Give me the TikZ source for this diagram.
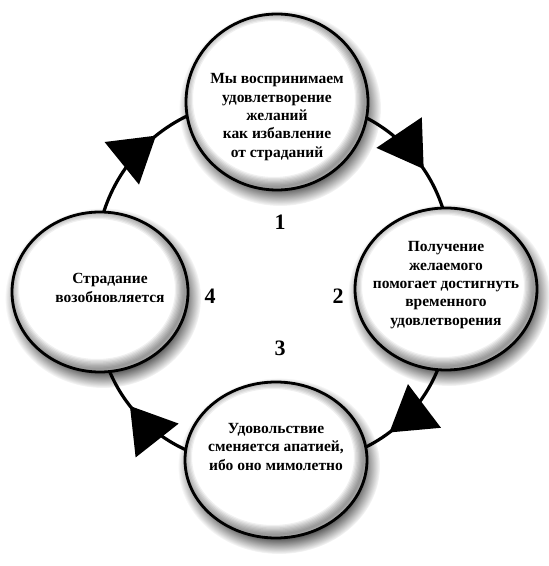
\documentclass[tikz,border=0pt]{standalone}
\usepackage{fontspec}
\setmainfont{Liberation Serif}
\usetikzlibrary{arrows.meta,decorations.markings,shapes.geometric,fadings,calc}
\pgfdeclarelayer{background}
\pgfsetlayers{background,main}
\definecolor{shadowgray}{RGB}{30,30,30}
\newcommand{\discshadow}[3]{\fill[shadowgray, opacity=0.8, path fading=circle with fuzzy edge 20 percent] ($(#1)+(3,-6)$) ellipse (#2 and #3);}
\newcommand{\innershade}[3]{
  \begin{scope}
    \clip (#1) ellipse (#2 and #3);
    \foreach \i in {1,...,8}{
      \draw[line width={\i*2.5pt}, black, opacity=0.06] ($(#1)+(-3,3)$) ellipse (#2 and #3);
    }
  \end{scope}
}
\tikzset{
  stage/.style 2 args={ellipse, draw, line width=2.8pt, fill=white, minimum width=#1, minimum height=#2, inner sep=0pt},
  stagetext/.style={align=center, font=\fontsize{15.5}{18.3}\selectfont\bfseries},
  stagenum/.style={font=\fontsize{22}{22}\selectfont\bfseries},
  cycleline/.style={line width=3.2pt, postaction={decorate},
    decoration={markings, mark=at position 0.575 with {\arrow{Triangle[length=44pt,width=54pt]}}}},
}
\begin{document}
\begin{tikzpicture}[x=1pt,y=1pt]
\useasboundingbox (0,0) rectangle (549,566);
% the four stages
\node[stage={182pt}{176pt}] (n1) at (277,464) {};
\node[stage={182pt}{162pt}] (n2) at (446,277) {};
\node[stage={182pt}{156pt}] (n3) at (276,106) {};
\node[stage={176pt}{160pt}] (n4) at (100,274) {};
\innershade{n1}{91}{88}
\innershade{n2}{91}{81}
\innershade{n3}{91}{78}
\innershade{n4}{88}{80}
\node[stagetext, yshift=-15pt] (t1) at (n1) {Мы воспринимаем\\удовлетворение\\желаний\\как избавление\\от страданий};
\node[stagetext, yshift=4pt] (t2) at (n2) {Получение\\желаемого\\помогает достигнуть\\временного\\удовлетворения};
\node[stagetext, yshift=13pt] (t3) at (n3) {Удовольствие\\сменяется апатией,\\ибо оно мимолетно};
\node[stagetext, xshift=10pt, yshift=4pt] (t4) at (n4) {Страдание\\возобновляется};
% numbers
\node[stagenum] (num1) at (280,344) {1};
\node[stagenum] (num2) at (338,270) {2};
\node[stagenum] (num3) at (280,218) {3};
\node[stagenum] (num4) at (210,270) {4};
\begin{pgfonlayer}{background}
\fill[white] (0,0) rectangle (549,566);
\discshadow{n1}{101}{98}
\discshadow{n2}{101}{91}
\discshadow{n3}{101}{88}
\discshadow{n4}{98}{90}
\foreach \a/\b in {n1/n2,n2/n3,n3/n4,n4/n1}{
  \draw[cycleline] (\a.center) to[bend left=55, looseness=1.08] (\b.center);
}
\end{pgfonlayer}
\end{tikzpicture}
\end{document}
